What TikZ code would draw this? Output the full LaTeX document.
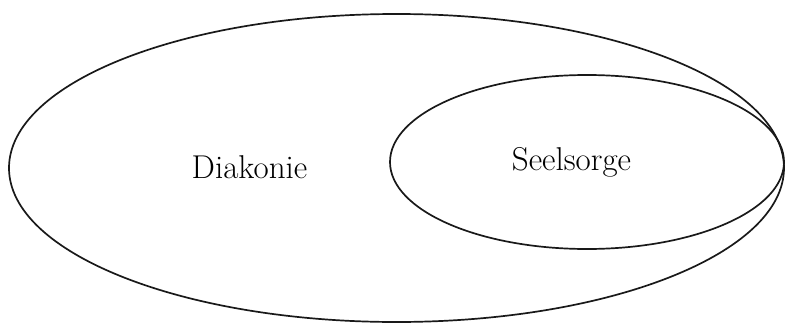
\documentclass[tikz,border=0pt]{standalone}
\usepackage{fontspec}
\usepackage{tikz}
\usetikzlibrary{shapes.geometric}
\tikzset{every picture/.prefix style={execute at begin picture={\rmfamily}}}

\begin{document}
\begin{tikzpicture}[x=1pt,y=1pt,
  oval/.style={draw=black!90,ellipse,inner sep=0pt,line width=1.7pt},
  lab/.style={anchor=base,inner sep=0pt,font=\fontsize{33}{40}\selectfont}]
\useasboundingbox (0,0) rectangle (787,325);
% outer field and the one inside it, touching at the right
\node[oval,minimum width=775,minimum height=308] (diakonie) at (396.5,157) {};
\node[oval,minimum width=394,minimum height=174] (seelsorge) at (587,163) {};
% labels
\node[lab] (diakonielab) at (249.5,147) {Diakonie};
\node[lab] (seelsorgelab) at (571.5,155) {Seelsorge};
\end{tikzpicture}
\end{document}
